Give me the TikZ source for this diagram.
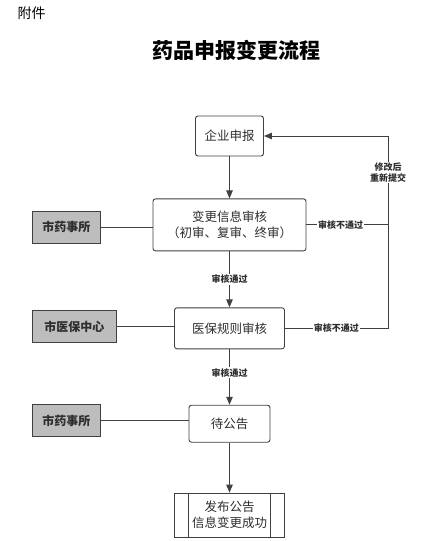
\documentclass[tikz,border=0pt]{standalone}
\usepackage{fontspec}
\setmainfont{Noto Sans CJK SC}
\usetikzlibrary{positioning, arrows.meta, calc}
\definecolor{lineGray}{HTML}{404040}
\definecolor{boxGray}{HTML}{BDBDBD}
\definecolor{textGray}{HTML}{2E2E2E}

\begin{document}
\begin{tikzpicture}[x=1pt, y=-1pt, every node/.style={align=center}]
    \tikzset{stepbox/.style={draw=lineGray,fill=white,rounded corners=2.5pt,line width=0.9pt,inner sep=0pt,text=textGray,font=\fontsize{12.5}{16}\selectfont},
      sidebox/.style={draw=lineGray,fill=boxGray,line width=0.9pt,inner sep=0pt,minimum width=68pt,minimum height=32pt,text=textGray,font=\fontsize{12}{14}\selectfont\bfseries},
      arrow/.style={-{Triangle[length=8pt,width=6.5pt]},line width=0.9pt,draw=lineGray},
      link/.style={line width=0.9pt,draw=lineGray},
      note/.style={fill=white,inner sep=1pt,text=textGray,font=\fontsize{9}{11}\selectfont\bfseries}}
    \useasboundingbox (0,0) rectangle (440,541);
    \node[anchor=west,font=\fontsize{14}{16}\selectfont] (fujian) at (14,13) {附件};
    \node[font=\fontsize{21}{24}\selectfont\bfseries] (title) at (236,50) {药品申报变更流程};
    % main column
    \node[stepbox,minimum width=68pt,minimum height=40pt] (apply) at (229.5,136) {企业申报};
    \node[stepbox,minimum width=153pt,minimum height=52pt,below=42pt of apply] (info) {变更信息审核\\（初审、复审、终审）};
    \node[stepbox,minimum width=110pt,minimum height=41pt,below=56pt of info] (rule) {医保规则审核};
    \node[stepbox,minimum width=81pt,minimum height=37pt,below=55.5pt of rule] (wait) {待公告};
    \node[stepbox,rounded corners=0pt,minimum width=110pt,minimum height=44pt,below=50pt of wait] (done) {发布公告\\信息变更成功};
    \draw[link] ($(done.north west)+(14.5,0)$) -- ($(done.south west)+(14.5,0)$);
    \draw[link] ($(done.north east)+(-14.5,0)$) -- ($(done.south east)+(-14.5,0)$);
    % side offices
    \node[sidebox,anchor=west] (office1) at (32,227) {市药事所};
    \node[sidebox,anchor=west,minimum width=84pt] (center) at (32,326.5) {市医保中心};
    \node[sidebox,anchor=west] (office2) at (32,420.5) {市药事所};
    \draw[link] (office1.east) -- (office1.east -| info.west);
    \draw[link] (center.east) -- (center.east -| rule.west);
    \draw[link] (office2.east) -- (office2.east -| wait.west);
    % flow
    \draw[arrow] (apply) -- (info);
    \draw[arrow] (info) -- node[note] {审核通过} (rule);
    \draw[arrow] (rule) -- node[note,pos=.42] {审核通过} (wait);
    \draw[arrow] (wait) -- (done);
    % sent back
    \coordinate (back) at (388,0);
    \draw[link] (info.east) -- node[note,pos=.42] {审核不通过} (info.east -| back);
    \draw[arrow] (rule.east) -- node[note] {审核不通过} (rule.east -| back)
      -- node[note,pos=.81] {修改后\\重新提交} (apply.east -| back) -- (apply.east);
\end{tikzpicture}
\end{document}
